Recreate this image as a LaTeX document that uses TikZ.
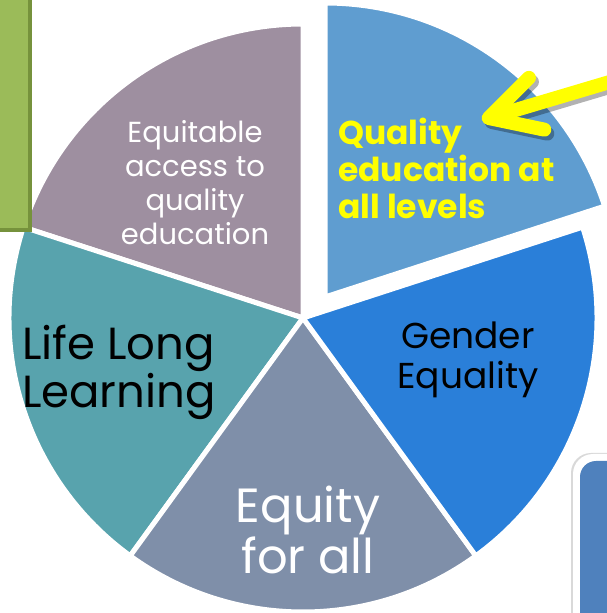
\documentclass[tikz,border=0pt]{standalone}
\usepackage{fontspec}
\setmainfont{Poppins}
\usepackage{tikz}
\usetikzlibrary{arrows.meta}
\usetikzlibrary{positioning}
\definecolor{secpurple}{HTML}{9E8FA0}
\definecolor{secteal}{HTML}{58A3AD}
\definecolor{secgray}{HTML}{7F8FA9}
\definecolor{secblue}{HTML}{2A7FD9}
\definecolor{seclight}{HTML}{5F9DD0}
\definecolor{boxgreen}{HTML}{9BBB59}
\definecolor{boxgreenedge}{HTML}{76923C}
\definecolor{boxblue}{HTML}{4F81BD}
\definecolor{arrowyellow}{HTML}{FFFF00}
\tikzset{
% pie slices with white gaps
slice/.style={draw=white, line width=5pt, line join=round},
label/.style={align=center, inner sep=0},
>={Straight Barb[length=50pt, width=54pt, line cap=round, line join=round]}
}

\begin{document}
\begin{tikzpicture}[x=1pt, y=1pt]
  \useasboundingbox (0,0) rectangle (607,613);
  \clip (0,0) rectangle (607,613);

  \coordinate (c) at (303,295);
  \coordinate (cq) at (325,316);

  % slices
  \filldraw[slice, fill=secpurple] (c) -- ++(90:294pt) arc[start angle=90, end angle=162, radius=294pt] -- cycle;
  \filldraw[slice, fill=secteal] (c) -- ++(162:294pt) arc[start angle=162, end angle=234, radius=294pt] -- cycle;
  \filldraw[slice, fill=secgray] (c) -- ++(234:294pt) arc[start angle=234, end angle=306, radius=294pt] -- cycle;
  \filldraw[slice, fill=secblue] (c) -- ++(306:294pt) arc[start angle=306, end angle=378, radius=294pt] -- cycle;
  % pulled out slice
  \filldraw[slice, fill=seclight] (cq) -- ++(18:294pt) arc[start angle=18, end angle=90, radius=294pt] -- cycle;

  % green box
  \node[rectangle, draw=boxgreenedge, fill=boxgreen, line width=4pt,
    anchor=south east, minimum width=60pt, minimum height=260pt] (greenbox) at (32,381) {};

  % blue box
  \fill[gray!30, rounded corners=20pt] (571,-20) rectangle (650,160);
  \fill[white, rounded corners=20pt] (573,-20) rectangle (650,159);
  \fill[boxblue, rounded corners=16pt] (580,-20) rectangle (650,152);

  \node[label, text=white, font=\fontsize{29}{34}\selectfont] (equit) at (195,430)
    {Equitable\\access to\\quality\\education};
  \node[label, align=left, anchor=west, text=arrowyellow, font=\fontsize{33}{37}\selectfont\bfseries] (quality) at (338,445)
    {Quality\\education at\\all levels};
  \node[label, text=black, font=\fontsize{36}{40}\selectfont] (gender) at (468,253)
    {Gender\\Equality};
  \node[label, align=left, anchor=west, text=black, font=\fontsize{45}{48}\selectfont] (lifelong) at (22,241)
    {Life Long\\Learning};
  \node[label, text=white, font=\fontsize{48}{51}\selectfont] (equity) at (308,83)
    {Equity\\for all};

  % yellow arrow
  \coordinate (astart) at (640,540);
  \coordinate (atip) at (482,493);
  \draw[->, black, opacity=0.3, line width=14pt, line cap=round] ([shift={(3pt,-4pt)}]astart) -- ([shift={(3pt,-4pt)}]atip);
  \draw[->, arrowyellow, line width=14pt, line cap=round] (astart) -- (atip);
\end{tikzpicture}
\end{document}
